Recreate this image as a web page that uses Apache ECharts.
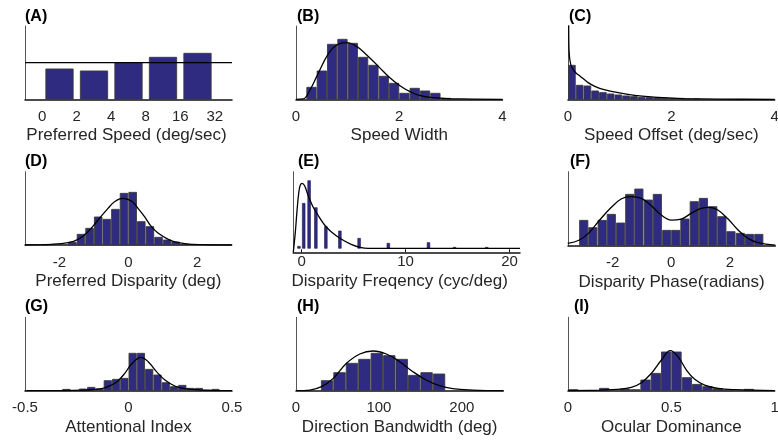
<!DOCTYPE html>
<html>
<head>
<meta charset="utf-8">
<script src="https://cdn.jsdelivr.net/npm/echarts@6/dist/echarts.min.js"></script>
<style>html,body{margin:0;padding:0;background:#fff}#c{width:778px;height:443px}</style>
</head>
<body>
<div id="c"></div>
<script>
// ---------- DATA ----------
// (A) Preferred speed
const speedTickLabels = ['0', '2', '4', '8', '16', '32'];
const speedBinIndex = [1, 2, 3, 4, 5];
const speedValues = [9.1, 8.5, 10.9, 12.6, 13.8];
const speedUniform = 11.0;

// (B) Speed width
const widthBinWidth = 0.2;
const widthStarts = [0.2, 0.4, 0.6, 0.8, 1.0, 1.2, 1.4, 1.6, 1.8, 2.0, 2.2, 2.4, 2.6, 2.8];
const widthCounts = [3.6, 8.5, 16.5, 18.0, 16.8, 12.6, 10.2, 6.9, 4.8, 1.8, 3.3, 2.5, 1.8, 0.3];
const widthCurve = [[0,0],[0.14,0.1],[0.27,2.8],[0.40,6.8],[0.63,13.8],[0.79,16.3],[0.98,17.0],[1.18,15.8],[1.37,13.3],[1.60,9.8],[1.83,6.3],[2.02,4.0],[2.21,2.3],[2.41,1.1],[2.67,0.5],[2.93,0.2],[3.18,0.1],[4,0]];

// (C) Speed offset
const offsetBinWidth = 0.15;
const offsetStarts = [0, 0.15, 0.3, 0.45, 0.6, 0.75, 0.9, 1.05, 1.2, 1.35, 1.5, 1.65, 1.8, 1.95, 2.1, 2.25, 2.4];
const offsetCounts = [10.2, 4.2, 4.0, 2.5, 2.0, 1.6, 1.3, 1.0, 0.8, 0.6, 0.5, 0.4, 0.3, 0.2, 0.2, 0.1, 0.1];
const offsetCurve = [[0.013,22.2],[0.019,15],[0.039,11.5],[0.077,9.5],[0.16,7.8],[0.23,7.0],[0.39,5.0],[0.53,3.8],[0.68,3.0],[0.97,2.0],[1.29,1.2],[1.61,0.7],[1.94,0.4],[2.26,0.2],[2.9,0.05],[4,0]];

// (D) Preferred disparity
const dispBinWidth = 0.25;
const dispStarts = [-2.5, -1.75, -1.5, -1.25, -1.0, -0.75, -0.5, -0.25, 0, 0.25, 0.5, 0.75, 1.0, 1.25, 1.5, 2.25];
const dispCounts = [0.1, 0.8, 3.2, 5.0, 8.4, 7.7, 10.7, 15.5, 15.8, 7.0, 5.5, 2.3, 1.5, 0.9, 0.2, 0.1];
const dispCurve = [[-3,0],[-2.24,0.2],[-1.75,0.7],[-1.46,1.7],[-1.17,4.0],[-0.88,7.5],[-0.59,11],[-0.4,13],[-0.17,14],[0.09,13.2],[0.28,11],[0.47,8.5],[0.67,5.5],[0.86,3.6],[1.16,1.7],[1.45,0.7],[1.84,0.2],[3,0]];

// (E) Disparity frequency
const freqBarWidth = 0.26;
const freqCenters = [-0.26, 0.2, 0.72, 1.37, 2.33, 3.68, 5.53, 8.34, 12.2, 14.7, 17.8];
const freqCounts = [0.6, 13.5, 20.3, 12.2, 6.5, 5.2, 3.0, 1.5, 1.7, 0.3, 0.3];
const freqCurve = [[-0.8,-1.2],[-0.6,5],[-0.45,11],[-0.3,16],[-0.15,18.8],[0.03,19.5],[0.29,18.8],[0.61,16],[1.09,12.5],[1.57,10],[2.21,7],[2.84,5],[3.8,2.8],[4.76,1.2],[5.73,0.2],[6.4,0],[21,0]];

// (F) Disparity phase
const phaseBinWidth = 0.314;
const phaseStarts = [-3.14, -2.83, -2.51, -2.20, -1.88, -1.57, -1.26, -0.94, -0.63, -0.31, 0, 0.31, 0.63, 0.94, 1.26, 1.57, 1.88, 2.20, 2.51, 2.83];
const phaseCounts = [7.6, 5.4, 7.6, 9.4, 6.8, 15.4, 17.0, 13.7, 15.4, 4.6, 4.6, 8.0, 13.2, 14.2, 11.7, 8.7, 4.2, 3.7, 3.4, 3.4];
const phaseCurve = [[-3.53,0.7],[-3.13,1.7],[-2.79,4.0],[-2.44,7.7],[-2.10,11.0],[-1.71,14.0],[-1.37,14.7],[-1.02,14.2],[-0.68,12.0],[-0.34,9.2],[0,7.7],[0.34,8.0],[0.68,9.7],[1.02,11.2],[1.31,11.5],[1.59,10.7],[1.94,8.0],[2.28,4.7],[2.62,2.2],[2.96,0.9],[3.55,0.2]];

// (G) Attentional index
const attnBinWidth = 0.04;
const attnStarts = [-0.32, -0.24, -0.20, -0.16, -0.12, -0.08, -0.04, 0, 0.04, 0.08, 0.12, 0.16, 0.20, 0.24, 0.28, 0.32, 0.36, 0.40];
const attnCounts = [0.4, 0.5, 1.0, 0.5, 3.0, 3.4, 3.7, 11.2, 11.2, 6.4, 4.7, 2.4, 1.2, 1.6, 0.7, 0.7, 0.2, 0.4];
const attnCurve = [[-0.493,0],[-0.21,0.2],[-0.13,0.6],[-0.082,1.7],[-0.05,3.0],[-0.018,5.2],[0.015,8.0],[0.06,10.0],[0.095,8.7],[0.135,5.7],[0.176,3.2],[0.224,1.4],[0.27,0.6],[0.353,0.2],[0.5,0]];

// (H) Direction bandwidth
const bwBinWidth = 15;
const bwStarts = [30, 45, 60, 75, 90, 105, 120, 135, 150, 165];
const bwCounts = [3.0, 5.4, 8.2, 9.4, 11.2, 10.5, 9.4, 4.6, 5.4, 5.0];
const bwCurve = [[0,0],[16.8,0.2],[30.8,1.2],[44.9,3.7],[60.9,8.2],[76.9,11.0],[93,11.9],[109,11.0],[125,8.7],[141,5.7],[157,3.2],[173,1.5],[189,0.6],[213,0.2],[250,0]];

// (I) Ocular dominance
const odBinWidth = 0.05;
const odStarts = [0, 0.15, 0.25, 0.3, 0.35, 0.4, 0.45, 0.5, 0.55, 0.6, 0.65, 0.7, 0.75, 0.85];
const odCounts = [0.3, 0.7, 0.5, 0.3, 3.2, 5.2, 11.6, 11.6, 3.9, 1.9, 1.2, 0.6, 0.2, 0.4];
const odCurve = [[0,0],[0.16,0.2],[0.24,0.4],[0.306,1.0],[0.355,2.4],[0.403,5.2],[0.452,9.2],[0.495,12.0],[0.532,10.2],[0.573,6.2],[0.613,3.4],[0.661,1.7],[0.726,0.7],[0.806,0.3],[1.0,0]];

// ---------- CHART ----------
const FONT = 'Liberation Sans, Arial, Helvetica, sans-serif';
const TXT = '#262626';
const BAR_FILL = '#2f2b80';

function hist(starts, w, counts) { return starts.map((s, i) => [s, s + w, counts[i]]); }
function centered(centers, w, counts) { return centers.map((c, i) => [c - w / 2, c + w / 2, counts[i]]); }

function renderBar(params, api) {
  const x0 = api.value(0), x1 = api.value(1), h = api.value(2);
  if (!(h > 0)) return null;
  const p0 = api.coord([x0, h]);
  const p1 = api.coord([x1, 0]);
  const full = p1[0] - p0[0];
  if (full < 5) {
    return {
      type: 'rect',
      shape: { x: p0[0], y: p0[1], width: Math.max(full, 1.5), height: p1[1] - p0[1] },
      style: { fill: BAR_FILL, stroke: '#1c1a55', lineWidth: 0.6 }
    };
  }
  return {
    type: 'rect',
    shape: { x: p0[0] + 0.5, y: p0[1], width: full - 1, height: p1[1] - p0[1] },
    style: { fill: BAR_FILL, stroke: '#3a3a3a', lineWidth: 0.9 }
  };
}

const grids = [
  { left: 25, top: 26, width: 207, height: 73.3 },
  { left: 296, top: 26, width: 206.5, height: 73.3 },
  { left: 568, top: 26, width: 206.7, height: 73.3 },
  { left: 25, top: 171.7, width: 206.7, height: 73.3 },
  { left: 293.3, top: 171.7, width: 226.7, height: 80.6 },
  { left: 568, top: 171.7, width: 207.3, height: 74 },
  { left: 25, top: 317.3, width: 207, height: 73.4 },
  { left: 296, top: 317.3, width: 207.3, height: 73.4 },
  { left: 568, top: 317.3, width: 206.7, height: 73.4 }
].map(g => Object.assign({ containLabel: false, outerBoundsMode: 'none' }, g));

function xValue(gi, min, max, labels, name, opts) {
  opts = opts || {};
  return {
    type: 'value', gridIndex: gi, min: min, max: max, position: 'bottom',
    axisLine: { show: true, onZero: false, lineStyle: { color: '#111', width: 1.5 } },
    axisTick: opts.tick ? { show: true, inside: true, length: 3, customValues: labels, lineStyle: { color: '#111' } } : { show: false },
    splitLine: { show: false },
    axisLabel: labels ? { show: true, customValues: labels, margin: opts.margin != null ? opts.margin : 10, fontSize: 15, color: TXT, fontFamily: FONT, showMinLabel: true, showMaxLabel: true } : { show: false },
    name: name || '', nameLocation: 'middle', nameGap: opts.nameGap != null ? opts.nameGap : 28,
    nameTextStyle: { fontSize: 17, color: TXT, fontFamily: FONT, padding: opts.namePad || 0 }
  };
}

const xAxes = [
  xValue(0, 0, 6, null, ''),
  {
    type: 'category', gridIndex: 0, position: 'bottom', data: speedTickLabels, boundaryGap: true,
    axisLine: { show: false }, axisTick: { show: false }, splitLine: { show: false },
    axisLabel: { margin: 10, fontSize: 15, color: TXT, fontFamily: FONT, interval: 0 },
    name: 'Preferred Speed (deg/sec)', nameLocation: 'middle', nameGap: 28,
    nameTextStyle: { fontSize: 17, color: TXT, fontFamily: FONT, padding: [0, 4, 0, 0] }
  },
  xValue(1, 0, 4, [0, 2, 4], 'Speed Width'),
  xValue(2, 0, 4, [0, 2, 4], 'Speed Offset (deg/sec)'),
  xValue(3, -3, 3, [-2, 0, 2], 'Preferred Disparity (deg)'),
  xValue(4, -0.8, 21, [0, 10, 20], 'Disparity Freqency (cyc/deg)', { margin: 2, nameGap: 21, tick: true, namePad: [0, 14, 0, 0] }),
  xValue(5, -3.52, 3.55, [-2, 0, 2], 'Disparity Phase(radians)'),
  xValue(6, -0.5, 0.5, [-0.5, 0, 0.5], 'Attentional Index'),
  xValue(7, 0, 250, [0, 100, 200], 'Direction Bandwidth (deg)'),
  xValue(8, 0, 1, [0, 0.5, 1], 'Ocular Dominance')
];

const yMax = [22, 22, 22, 22, 23, 22.2, 22, 22, 22];
const yMin = [0, 0, 0, 0, -1.2, 0, 0, 0, 0];
const yAxes = grids.map((g, i) => ({
  type: 'value', gridIndex: i, min: yMin[i], max: yMax[i],
  axisLine: { show: true, onZero: false, lineStyle: { color: '#555', width: 1 } },
  axisTick: { show: false }, axisLabel: { show: false }, splitLine: { show: false }
}));

function barSeries(xi, yi, data) {
  return { type: 'custom', xAxisIndex: xi, yAxisIndex: yi, renderItem: renderBar, data: data, encode: { x: [0, 1], y: 2 }, silent: true, z: 2 };
}
function curveSeries(xi, yi, data, smooth) {
  return { type: 'line', xAxisIndex: xi, yAxisIndex: yi, data: data, showSymbol: false, smooth: smooth == null ? 0.4 : smooth,
    lineStyle: { color: '#000', width: 1.3 }, silent: true, z: 3 };
}

const series = [
  barSeries(0, 0, centered(speedBinIndex, 0.82, speedValues)),
  curveSeries(0, 0, [[0, speedUniform], [6, speedUniform]], false),
  barSeries(2, 1, hist(widthStarts, widthBinWidth, widthCounts)),
  curveSeries(2, 1, widthCurve),
  barSeries(3, 2, hist(offsetStarts, offsetBinWidth, offsetCounts)),
  curveSeries(3, 2, offsetCurve, 0.25),
  barSeries(4, 3, hist(dispStarts, dispBinWidth, dispCounts)),
  curveSeries(4, 3, dispCurve),
  barSeries(5, 4, centered(freqCenters, freqBarWidth, freqCounts)),
  curveSeries(5, 4, freqCurve, 0.3),
  barSeries(6, 5, hist(phaseStarts, phaseBinWidth, phaseCounts)),
  curveSeries(6, 5, phaseCurve),
  barSeries(7, 6, hist(attnStarts, attnBinWidth, attnCounts)),
  curveSeries(7, 6, attnCurve),
  barSeries(8, 7, hist(bwStarts, bwBinWidth, bwCounts)),
  curveSeries(8, 7, bwCurve),
  barSeries(9, 8, hist(odStarts, odBinWidth, odCounts)),
  curveSeries(9, 8, odCurve)
];

const panelLabels = [
  ['(A)', 25, 9], ['(B)', 297, 9], ['(C)', 569, 9],
  ['(D)', 25, 154], ['(E)', 298, 154], ['(F)', 570, 154],
  ['(G)', 25, 299], ['(H)', 297, 299], ['(I)', 574, 299]
];

const chart = echarts.init(document.getElementById('c'), null, { renderer: 'canvas' });
chart.setOption({
  animation: false,
  backgroundColor: '#fff',
  title: panelLabels.map(p => ({ text: p[0], left: p[1], top: p[2], padding: 0,
    textStyle: { fontSize: 16, fontWeight: 'bold', color: '#000', fontFamily: FONT } })),
  grid: grids,
  xAxis: xAxes,
  yAxis: yAxes,
  series: series
});
</script>
</body>
</html>
